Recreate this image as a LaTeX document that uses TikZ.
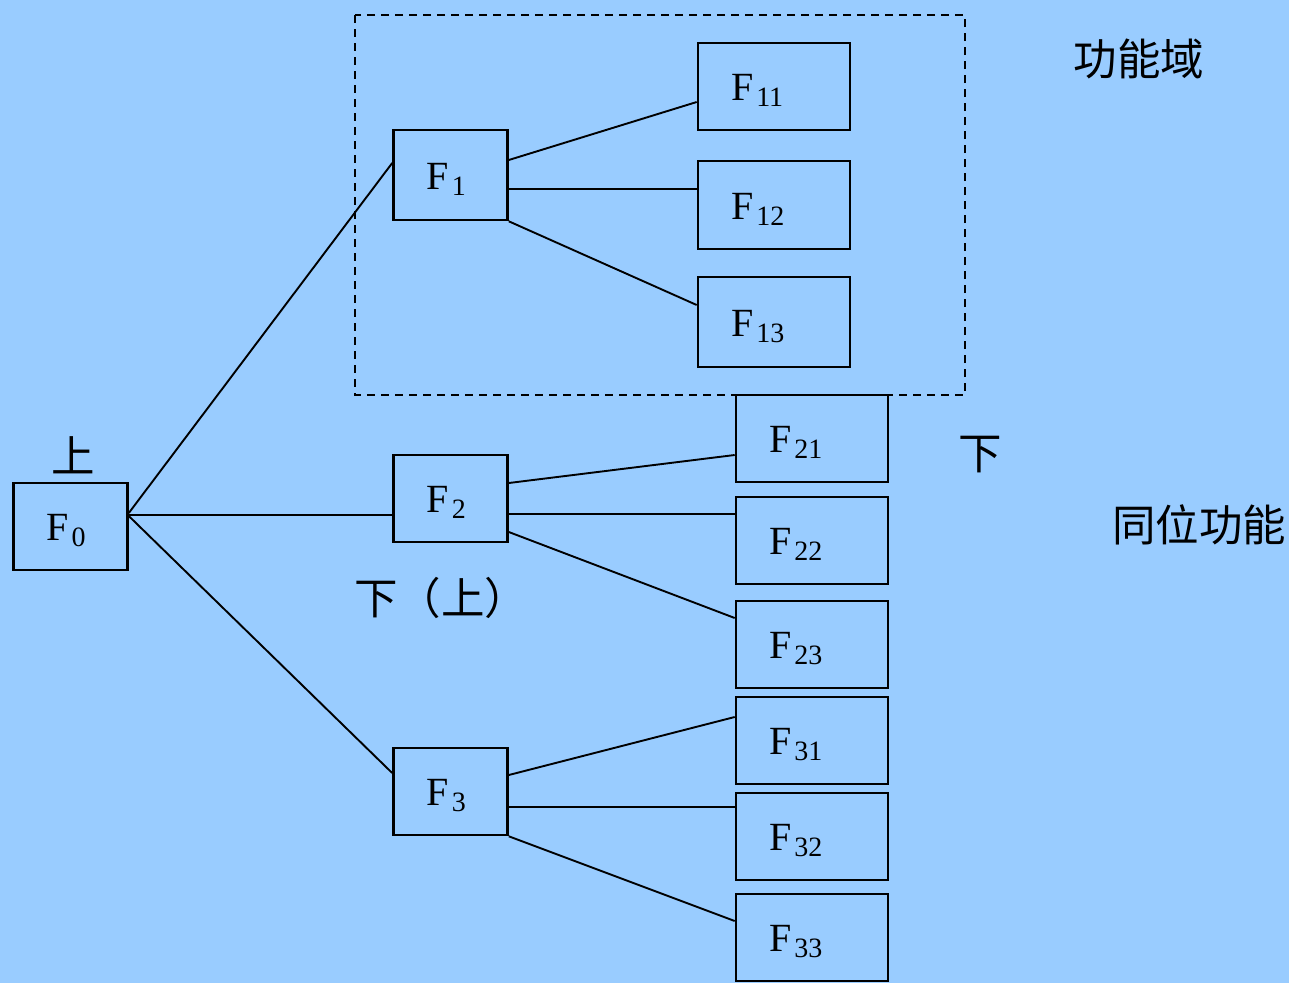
\documentclass[tikz,border=0pt]{standalone}
\usepackage{fontspec}
\setmainfont{Liberation Serif}
\newfontfamily\cjk{Noto Sans CJK SC}
\definecolor{bg}{RGB}{153,204,255}
\newcommand{\Fsub}[1]{F\kern3pt\lower6pt\hbox{\fontsize{28pt}{28pt}\selectfont #1}}
\begin{document}
\begin{tikzpicture}[x=1pt,y=-1pt,
  fbox/.style={draw=black, line width=2.6pt, inner xsep=33pt, inner ysep=0pt,
    text height=28pt, text depth=0pt, align=left,
    font=\fontsize{40pt}{40pt}\selectfont},
  smallbox/.style={fbox, text width=48pt, minimum height=87pt},
  bigbox/.style={fbox, text width=86pt, minimum height=87pt},
  conn/.style={line width=1.9pt},
  dashbox/.style={line width=2pt, dash pattern=on 8pt off 6pt},
  cjklabel/.style={font=\cjk\fontsize{43.5pt}{43.5pt}\selectfont, inner sep=0pt}
]
\fill[bg] (0,0) rectangle (1289,983);
\useasboundingbox (0,0) rectangle (1289,983);

\draw[dashbox] (355,15) rectangle (965,395);

\node[smallbox] (F0) at (70.5,526.5) {\Fsub{0}};
\node[smallbox, minimum height=90pt] (F1) at (450.5,175) {\Fsub{1}};
\node[smallbox] (F2) at (450.5,498.5) {\Fsub{2}};
\node[smallbox] (F3) at (450.5,791.5) {\Fsub{3}};

\node[bigbox] (F11) at (774,86.5) {\Fsub{11}};
\node[bigbox, minimum height=88pt] (F12) at (774,205) {\Fsub{12}};
\node[bigbox, minimum height=90pt] (F13) at (774,322) {\Fsub{13}};

\node[bigbox] (F21) at (812,438.5) {\Fsub{21}};
\node[bigbox] (F22) at (812,540.5) {\Fsub{22}};
\node[bigbox] (F23) at (812,644.5) {\Fsub{23}};
\node[bigbox] (F31) at (812,740.5) {\Fsub{31}};
\node[bigbox] (F32) at (812,836.5) {\Fsub{32}};
\node[bigbox] (F33) at (812,937.5) {\Fsub{33}};

\draw[conn] ([yshift=13.5pt]F0.east) -- ([yshift=12pt]F1.west);
\draw[conn] ([yshift=11.5pt]F0.east) -- ([yshift=-16.5pt]F2.west);
\draw[conn] ([yshift=10.5pt]F0.east) -- ([yshift=18.5pt]F3.west);

\draw[conn] ([yshift=15pt]F1.east) -- ([yshift=-15.5pt]F11.west);
\draw[conn] ([yshift=-14pt]F1.east) -- ([yshift=16pt]F12.west);
\draw[conn] (F1.south east) -- ([yshift=17pt]F13.west);

\draw[conn] ([yshift=15.5pt]F2.east) -- ([yshift=-16.5pt]F21.west);
\draw[conn] ([yshift=-15.5pt]F2.east) -- ([yshift=26.5pt]F22.west);
\draw[conn] ([yshift=-33.5pt]F2.east) -- ([yshift=26.5pt]F23.west);

\draw[conn] ([yshift=16.5pt]F3.east) -- ([yshift=23.5pt]F31.west);
\draw[conn] ([yshift=-15.5pt]F3.east) -- ([yshift=29.5pt]F32.west);
\draw[conn] (F3.south east) -- ([yshift=16.5pt]F33.west);

\node[cjklabel] (up0) at (73,455) {上};
\node[cjklabel] (down1) at (980,455) {下};
\node[cjklabel] (downup) at (441,598) {下（上）};
\node[cjklabel] (domain) at (1139,59) {功能域};
\node[cjklabel] (peer) at (1199,525) {同位功能};
\end{tikzpicture}
\end{document}
